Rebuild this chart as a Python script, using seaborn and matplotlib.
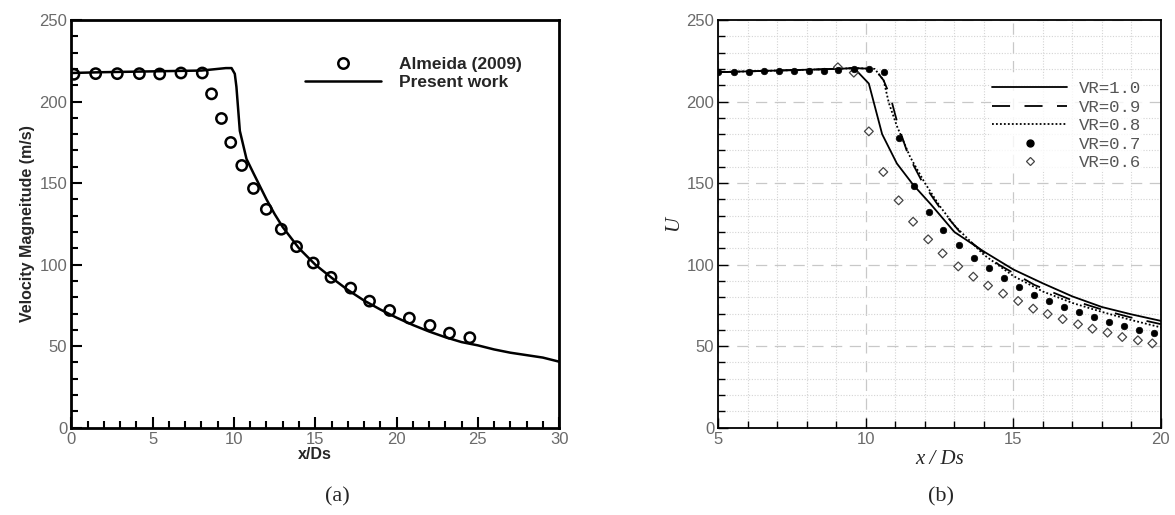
import numpy as np
import matplotlib
matplotlib.use("Agg")
import matplotlib.pyplot as plt
import seaborn as sns
import pandas as pd
from matplotlib.ticker import MultipleLocator
from matplotlib.lines import Line2D

sns.set_style("white")
plt.rcParams["font.family"] = ["Liberation Sans", "DejaVu Sans"]

# ---- panel (a): Almeida (2009) vs present work
almeida_x = [0.15, 1.49, 2.82, 4.18, 5.43, 6.74, 8.05, 8.62, 9.23, 9.80, 10.48, 11.20,
             11.99, 12.91, 13.85, 14.88, 15.97, 17.18, 18.34, 19.58, 20.79, 22.06, 23.26, 24.51]
almeida_u = [216.7, 217.1, 217.1, 217.1, 216.9, 217.5, 217.5, 204.7, 189.6, 174.9, 160.8, 146.7,
             133.9, 121.7, 111.0, 101.0, 92.2, 85.6, 77.6, 71.9, 67.2, 62.7, 58.0, 55.2]
present_x = [0, 2, 5, 8, 9.5, 9.85, 10.05, 10.15, 10.36, 10.77, 11.2, 11.6, 12.0, 12.5, 13.0,
             14.0, 15.0, 16.0, 17.0, 18.0, 19.0, 20.0, 21.0, 22.0, 23.0, 24.0, 25.0, 26.0,
             27.0, 28.0, 29.0, 30.0]
present_u = [217.5, 218.0, 218.5, 219.0, 220.5, 220.5, 217.0, 209.0, 182.0, 164.8, 156.0, 148.0,
             140.0, 131.0, 123.0, 110.0, 100.0, 92.0, 84.5, 78.0, 72.5, 67.5, 63.0, 59.0,
             55.5, 52.5, 50.5, 48.0, 46.0, 44.5, 43.0, 40.5]

# ---- panel (b): velocity ratio study
vr10_x = [5, 6, 7, 8, 9, 9.6, 10.1, 10.55, 11.05, 11.6, 12.2, 13, 14, 15, 16, 17, 18, 19, 20]
vr10_u = [218, 218.5, 219, 219.5, 220, 220.5, 211, 180, 162, 149, 137, 120, 108, 97, 88.5,
          80.5, 74, 69.5, 65.5]
vr09_x = [5, 6, 7, 8, 9, 9.6, 10.3, 10.6, 10.83, 11.08, 11.44, 11.93, 12.54, 13.28, 14.5,
          15.72, 16.94, 18.17, 19.0, 20]
vr09_u = [218, 218.5, 219, 219.5, 220, 220.5, 220, 213, 203, 186, 167, 150, 134, 118, 100,
          87.5, 78.5, 71.5, 67.5, 63.5]
vr08_x = [5, 6, 7, 8, 9, 9.6, 10.3, 10.6, 10.78, 11.05, 11.5, 12, 12.5, 13, 14, 15, 16, 17,
          18, 19, 20]
vr08_u = [218, 218.5, 219, 219.5, 220, 220.5, 220, 213, 199, 185, 166, 150, 136, 124, 106,
          93, 83.5, 76.5, 71, 66, 61.5]
vr07_x = [5.0, 5.52, 6.03, 6.55, 7.05, 7.56, 8.07, 8.58, 9.07, 9.59, 10.12, 10.61, 11.13,
          11.63, 12.14, 12.63, 13.16, 13.67, 14.18, 14.68, 15.2, 15.71, 16.2, 16.72, 17.23,
          17.72, 18.24, 18.74, 19.27, 19.76]
vr07_u = [218.3, 218.3, 218.3, 218.5, 218.7, 218.7, 218.9, 218.9, 219.3, 219.9, 219.7, 218.3,
          177.4, 148.0, 132.5, 121.0, 112.0, 104.0, 97.7, 91.8, 86.3, 81.6, 77.7, 74.2, 70.7,
          67.7, 64.8, 62.1, 59.7, 57.8]
vr06_x = [9.05, 9.59, 10.10, 10.59, 11.11, 11.60, 12.11, 12.60, 13.13, 13.64, 14.14, 14.65,
          15.16, 15.67, 16.16, 16.67, 17.19, 17.68, 18.19, 18.69, 19.22, 19.71]
vr06_u = [221.0, 217.7, 181.7, 156.8, 139.4, 126.3, 115.5, 106.9, 98.9, 92.6, 87.1, 82.2,
          77.7, 73.0, 69.7, 66.6, 63.4, 60.7, 58.3, 55.6, 53.6, 51.7]

df_alm = pd.DataFrame({"x": almeida_x, "u": almeida_u})
df_pre = pd.DataFrame({"x": present_x, "u": present_u})

fig = plt.figure(figsize=(11.75, 5.15), dpi=100)
ax1 = fig.add_axes([0.0608, 0.1695, 0.415, 0.7917])
ax2 = fig.add_axes([0.6114, 0.1695, 0.3766, 0.7917])

tick_gray = "#6a6a6a"

#########################
# (a)
#########################
sns.lineplot(data=df_pre, x="x", y="u", ax=ax1, color="black", lw=1.8,
             sort=False, estimator=None)
sns.scatterplot(data=df_alm, x="x", y="u", ax=ax1, marker="o", s=55,
                facecolor="none", edgecolor="black", linewidth=1.8, zorder=3)
ax1.set_xlim(0, 30)
ax1.set_ylim(0, 250)
ax1.xaxis.set_major_locator(MultipleLocator(5))
ax1.xaxis.set_minor_locator(MultipleLocator(1))
ax1.yaxis.set_major_locator(MultipleLocator(50))
ax1.yaxis.set_minor_locator(MultipleLocator(10))
ax1.tick_params(which="both", direction="in", bottom=True, left=True, top=False, right=False,
                colors="black", labelcolor=tick_gray, labelsize=12, width=1.5)
ax1.tick_params(which="major", length=8, pad=3)
ax1.tick_params(which="minor", length=5)
for sp in ax1.spines.values():
    sp.set_linewidth(2)
    sp.set_color("black")
ax1.set_xlabel("x/Ds", fontsize=11.5, fontweight="bold", labelpad=0)
ax1.set_ylabel("Velocity Magneitude (m/s)", fontsize=11.5, fontweight="bold", labelpad=3)

hand_a = [Line2D([], [], ls="none", marker="o", ms=7.5, mfc="none", mec="black", mew=1.8),
          Line2D([], [], color="black", lw=1.8)]
ax1.legend(hand_a, ["Almeida (2009)", "Present work"], loc="upper left",
           bbox_to_anchor=(0.479, 0.91), frameon=False, handlelength=4.4,
           handletextpad=1.0, labelspacing=0.15, borderpad=0, borderaxespad=0,
           prop={"weight": "bold", "size": 12.5})

#########################
# (b)
#########################
ax2.grid(which="major", color="#c8c8c8", ls=(0, (9, 6)), lw=0.9)
ax2.grid(which="minor", color="#d4d4d4", ls=(0, (1, 1.5)), lw=0.8)
ax2.set_axisbelow(True)

lines = [(vr10_x, vr10_u, "-", "VR=1.0"),
         (vr09_x, vr09_u, (0, (10, 8)), "VR=0.9"),
         (vr08_x, vr08_u, (0, (1, 1.2)), "VR=0.8")]
for xs, us, ls, lab in lines:
    d = pd.DataFrame({"x": xs, "u": us})
    sns.lineplot(data=d, x="x", y="u", ax=ax2, color="black", lw=1.3, linestyle=ls,
                 sort=False, estimator=None, label=lab, legend=False)
sns.scatterplot(x=vr06_x, y=vr06_u, ax=ax2, marker="D", s=20, facecolor="none",
                edgecolor="#444444", linewidth=0.9, zorder=3)
sns.scatterplot(x=vr07_x, y=vr07_u, ax=ax2, marker="o", s=22, color="black",
                edgecolor="black", linewidth=0.5, zorder=4)

ax2.set_xlim(5, 20)
ax2.set_ylim(0, 250)
ax2.xaxis.set_major_locator(MultipleLocator(5))
ax2.xaxis.set_minor_locator(MultipleLocator(1))
ax2.yaxis.set_major_locator(MultipleLocator(50))
ax2.yaxis.set_minor_locator(MultipleLocator(10))
ax2.tick_params(which="both", direction="in", bottom=True, left=True, top=False, right=False,
                colors="black", labelcolor=tick_gray, labelsize=12, width=1.0)
ax2.tick_params(which="major", length=7, pad=3)
ax2.tick_params(which="minor", length=5)
for sp in ax2.spines.values():
    sp.set_linewidth(1.3)
    sp.set_color("black")
ax2.set_xlabel("x / Ds", fontsize=15, fontstyle="italic", family="Liberation Serif", labelpad=2)
ax2.set_ylabel("U", fontsize=15, fontstyle="italic", family="Liberation Serif", labelpad=2)

hand_b = [Line2D([], [], color="black", lw=1.3, ls="-"),
          Line2D([], [], color="black", lw=1.3, ls=(0, (10, 8))),
          Line2D([], [], color="black", lw=1.3, ls=(0, (1, 1.2))),
          Line2D([], [], ls="none", marker="o", ms=5, mfc="black", mec="black"),
          Line2D([], [], ls="none", marker="D", ms=4.5, mfc="none", mec="#444444", mew=0.9)]
leg = ax2.legend(hand_b, ["VR=1.0", "VR=0.9", "VR=0.8", "VR=0.7", "VR=0.6"],
                 loc="upper left", bbox_to_anchor=(0.615, 0.855), frameon=True,
                 handlelength=4.3, handletextpad=0.7, labelspacing=0.2, borderpad=0.1,
                 borderaxespad=0, fancybox=False,
                 prop={"family": "Liberation Mono", "size": 12.5})
leg.get_frame().set_facecolor("white")
leg.get_frame().set_edgecolor("none")
for t in leg.get_texts():
    t.set_color("#555555")

fig.text(0.2868, 0.035, "(a)", ha="center", va="center", fontsize=16, family="Liberation Serif")
fig.text(0.801, 0.035, "(b)", ha="center", va="center", fontsize=16, family="Liberation Serif")

fig.savefig("out.png", dpi=100)
